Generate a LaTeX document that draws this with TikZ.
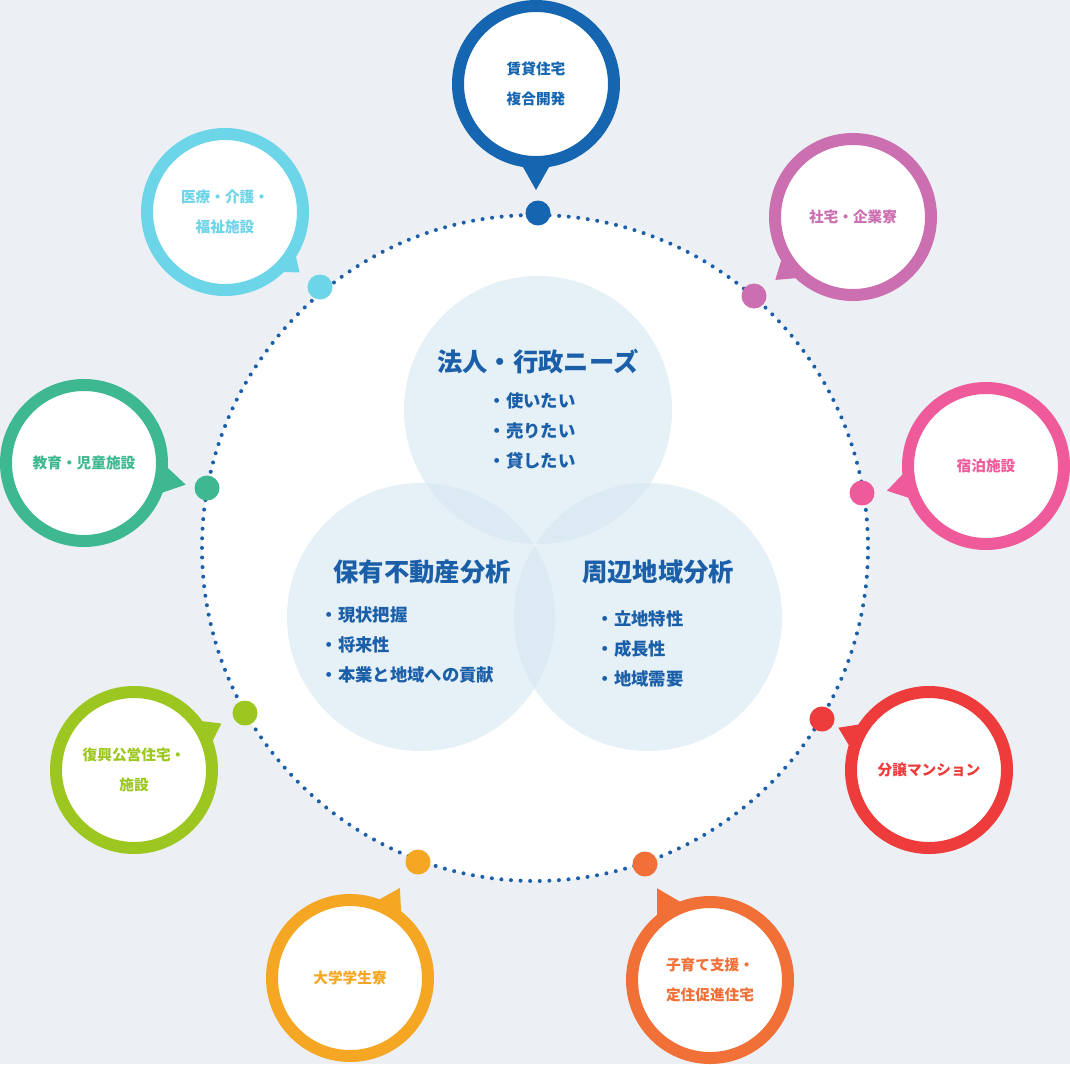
\documentclass[tikz,border=0pt]{standalone}
\usepackage{fontspec}
\setmainfont{Noto Sans CJK JP}
\usepackage{xcolor}
\usetikzlibrary{calc}
\definecolor{bgc}{HTML}{ECF0F5}
\definecolor{navy}{HTML}{1A5FA8}
\definecolor{venn}{HTML}{D6E6F3}
\definecolor{cA}{HTML}{1565B0}
\definecolor{cB}{HTML}{CC6FB0}
\definecolor{cC}{HTML}{EE5A9A}
\definecolor{cD}{HTML}{EE3B3B}
\definecolor{cE}{HTML}{F07038}
\definecolor{cF}{HTML}{F5A623}
\definecolor{cG}{HTML}{9CC620}
\definecolor{cH}{HTML}{3DB890}
\definecolor{cI}{HTML}{6CD5E8}
\begin{document}
\begin{tikzpicture}[x=0.75pt,y=-0.75pt,
  vennc/.style = {fill=venn, fill opacity=0.6},
  head/.style = {text=navy, font=\bfseries\fontsize{19}{22}\selectfont},
  items/.style = {text=navy, font=\bfseries\fontsize{13}{22.5}\selectfont, align=left},
  blabel/.style = {font=\bfseries\fontsize{11}{22}\selectfont, align=center}]
  \useasboundingbox[fill=bgc] (0,0) rectangle (1070,1064);
  \node[circle, fill=white, minimum size=666*0.75pt, inner sep=0] (main) at (535,548) {};
  \draw[navy, line width=3pt, line cap=round, dash pattern=on 0pt off 7.2pt] (535,548) circle (333);
  % venn circles
  \fill[vennc] (538,410) circle (134);
  \fill[vennc] (421,617) circle (134);
  \fill[vennc] (648,617) circle (134);
  \node[head] (needs) at (538,362) {法人・行政ニーズ};
  \node[items, anchor=north west] (needsl) at (484,388) {・使いたい\\・売りたい\\・貸したい};
  \node[head] (own) at (422,572) {保有不動産分析};
  \node[items, anchor=north west] (ownl) at (316,602) {・現状把握\\・将来性\\・本業と地域への貢献};
  \node[head] (area) at (658,572) {周辺地域分析};
  \node[items, anchor=north west] (areal) at (592,606) {・立地特性\\・成長性\\・地域需要};
  % bubbles
  \foreach \n/\cx/\cy/\ang/\dist/\px/\py/\col/\txt in {
     1/536/84/90/106/538/213/cA/{賃貸住宅\\複合開発},
     2/853/217/141/100/754/296/cB/{社宅・企業寮},
     3/986/466/166/102/862/493/cC/{宿泊施設},
     4/929/770/205/100/822/719/cD/{分譲マンション},
     5/710/980/240/106/645/864/cE/{子育て支援・\\定住促進住宅},
     6/350/978/299/103/418/862/cF/{大学学生寮},
     7/134/770/332/99/245/713/cG/{復興公営住宅・\\施設},
     8/84/463/12/104/207/488/cH/{教育・児童施設},
     9/225/212/39/96/320/287/cI/{医療・介護・\\福祉施設}} {
    \fill[\col] (\px,\py) circle (12.5);
    \fill[\col] ($(\cx,\cy)+(\ang:\dist)$) -- ($(\cx,\cy)+(\ang+17:72)$) -- ($(\cx,\cy)+(\ang-17:72)$) -- cycle;
    \draw[\col, line width=9pt, fill=white] (\cx,\cy) circle (78);
    \node[blabel, text=\col] (b\n) at (\cx,\cy) {\txt};
  }
\end{tikzpicture}
\end{document}
